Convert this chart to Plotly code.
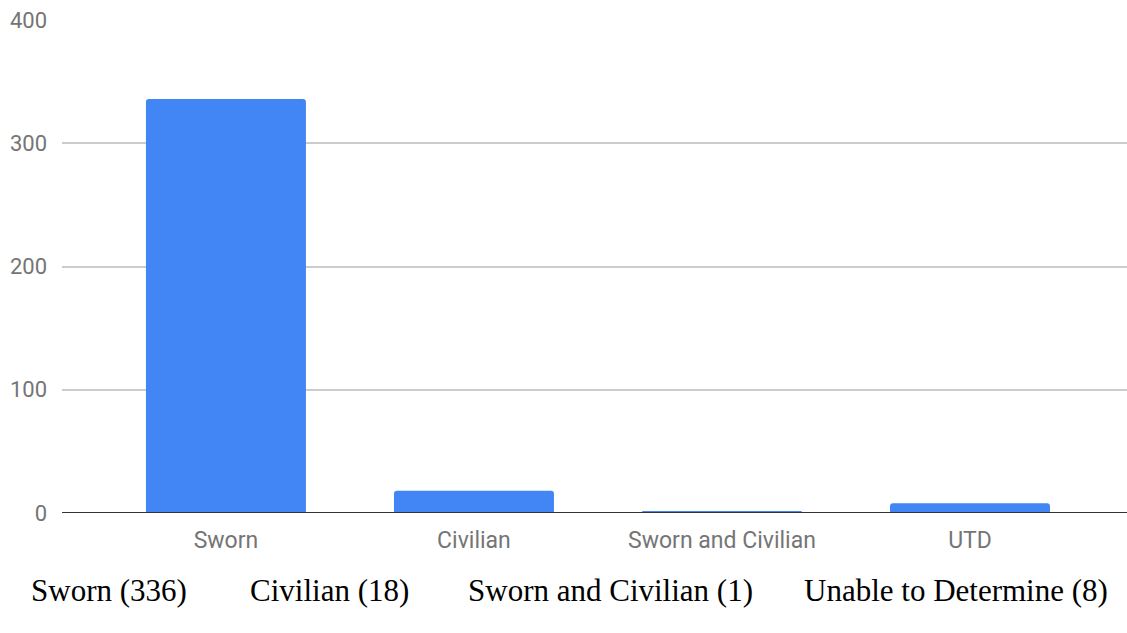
import plotly.graph_objects as go

categories = ["Sworn", "Civilian", "Sworn and Civilian", "UTD"]
counts = [336, 18, 1, 8]
caption_labels = ["Sworn", "Civilian", "Sworn and Civilian", "Unable to Determine"]
y_ticks = [0, 100, 200, 300, 400]

fig = go.Figure(
    go.Bar(
        x=list(range(len(categories))),
        y=counts,
        width=0.645,
        marker=dict(color="#4285F4", line=dict(width=0), cornerradius=3),
        hoverinfo="skip",
    )
)

# baseline drawn over the bars
fig.add_shape(
    type="line", xref="paper", yref="y",
    x0=0, x1=1, y0=0, y1=0,
    line=dict(color="#333333", width=2),
    layer="above",
)

# caption row under the chart, one label per category with its count
caption_x = [109, 329, 610, 956]
W, H = 1127, 633
ml, mr, mt, mb = 62, 0, 20, 120
for lab, n, px in zip(caption_labels, counts, caption_x):
    fig.add_annotation(
        text=f"{lab} ({n})",
        xref="paper", yref="paper",
        x=(px - ml) / (W - ml - mr),
        y=-(590 - (H - mb)) / (H - mt - mb),
        xanchor="center", yanchor="middle",
        showarrow=False,
        font=dict(family="Liberation Serif, Times New Roman, serif", size=31, color="#000000"),
    )

fig.update_layout(
    width=W, height=H,
    margin=dict(l=ml, r=mr, t=mt, b=mb),
    paper_bgcolor="white", plot_bgcolor="white",
    showlegend=False,
    xaxis=dict(
        range=[-0.661, 3.633],
        tickmode="array",
        tickvals=list(range(len(categories))),
        ticktext=categories,
        showgrid=False, zeroline=False,
        showline=False,
        ticks="",
        tickfont=dict(family="Roboto, sans-serif", size=23, color="#757575"),
        ticklabelstandoff=11,
    ),
    yaxis=dict(
        range=[0, 400],
        tickmode="array",
        tickvals=y_ticks,
        showgrid=True, gridcolor="#CCCCCC", gridwidth=1.5,
        zeroline=False,
        showline=False, ticks="",
        tickfont=dict(family="Roboto, sans-serif", size=22, color="#757575"),
        ticklabelstandoff=14,
    ),
)

fig.write_html("out.html")
